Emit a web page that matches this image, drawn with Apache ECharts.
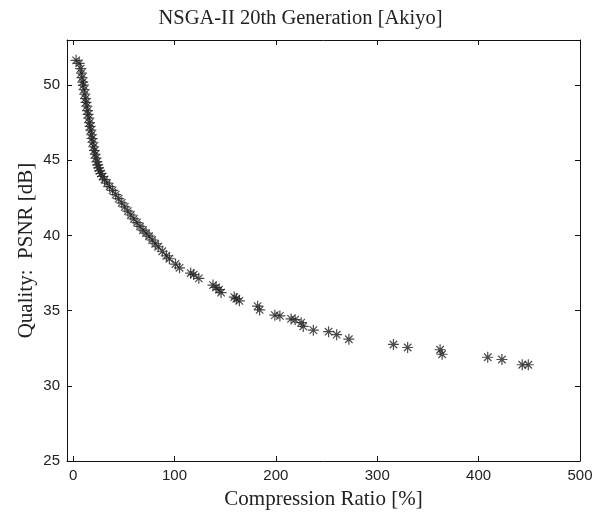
<!DOCTYPE html>
<html>
<head>
<meta charset="utf-8">
<script src="https://cdn.jsdelivr.net/npm/echarts@6/dist/echarts.min.js"></script>
<style>
  html, body { margin: 0; padding: 0; background: #fff; }
  #chart { width: 601px; height: 515px; }
</style>
</head>
<body>
<div id="chart"></div>
<script>
// compression ratio [%] of each Pareto solution
var ratio = [3, 6, 7.5, 8.2, 8.8, 9.5, 10.2, 10.8, 11.5, 12.2, 12.8, 13.5, 14.2, 14.8, 15.5,
  16.2, 16.8, 17.5, 18.2, 18.8, 19.5, 20.3, 21, 21.8, 22.6, 23.5, 24.3, 25.2, 26.2, 27.4,
  29, 31, 33.5, 36, 39, 42, 45, 48, 51, 54, 57, 60, 63, 66, 69, 72, 75, 78, 81, 84, 88, 92,
  95, 101, 105, 116, 119, 124, 138, 141, 144, 146, 159, 161, 164, 182, 184, 199, 204,
  215, 219, 225, 227, 237, 252, 260, 272, 316, 330, 362, 364, 409, 423, 443, 449];
// quality PSNR [dB] of each solution
var psnr = [51.65, 51.45, 51.1, 50.8, 50.5, 50.2, 50.0, 49.7, 49.4, 49.1, 48.85, 48.6, 48.3,
  48.05, 47.8, 47.5, 47.25, 47.0, 46.7, 46.45, 46.2, 45.9, 45.65, 45.4, 45.15, 44.9, 44.7,
  44.5, 44.3, 44.12, 43.92, 43.72, 43.48, 43.25, 43.0, 42.72, 42.45, 42.17, 41.9, 41.62,
  41.36, 41.1, 40.85, 40.6, 40.36, 40.15, 39.95, 39.7, 39.45, 39.25, 38.95, 38.65, 38.45,
  38.1, 37.85, 37.5, 37.4, 37.15, 36.7, 36.55, 36.4, 36.2, 35.9, 35.8, 35.65, 35.3, 35.05,
  34.7, 34.65, 34.45, 34.4, 34.2, 33.95, 33.7, 33.6, 33.4, 33.1, 32.75, 32.55, 32.4, 32.1,
  31.9, 31.75, 31.4, 31.4];

var xTicks = [0, 100, 200, 300, 400, 500];
var yTicks = [25, 30, 35, 40, 45, 50];

var chart = echarts.init(document.getElementById('chart'));

var points = ratio.map(function (r, i) { return [r, psnr[i]]; });
var star = 'path://M0,5L10,5M5,0L5,10M1.6,1.6L8.4,8.4M8.4,1.6L1.6,8.4';
var serif = '"Liberation Serif", "DejaVu Serif", serif';
var sans = '"Liberation Sans", Arial, sans-serif';

function xAxisDef(pos, labels) {
  return {
    type: 'value', position: pos, min: -6, max: 500,
    axisLine: { show: true, onZero: false, lineStyle: { color: '#111', width: 1 } },
    axisTick: { show: true, inside: true, length: 5, customValues: xTicks, lineStyle: { color: '#111' } },
    axisLabel: { show: labels, customValues: xTicks, color: '#222', fontSize: 15, fontFamily: sans, margin: 7 },
    splitLine: { show: false }
  };
}
function yAxisDef(pos, labels) {
  return {
    type: 'value', position: pos, min: 25, max: 53,
    axisLine: { show: true, onZero: false, lineStyle: { color: '#111', width: 1 } },
    axisTick: { show: true, inside: true, length: 5, customValues: yTicks, lineStyle: { color: '#111' } },
    axisLabel: { show: labels, customValues: yTicks, color: '#222', fontSize: 15, fontFamily: sans, margin: 7 },
    splitLine: { show: false }
  };
}

var xBottom = xAxisDef('bottom', true);
xBottom.name = 'Compression Ratio [%]';
xBottom.nameLocation = 'middle';
xBottom.nameGap = 28;
xBottom.nameMoveOverlap = false;
xBottom.nameTextStyle = { fontFamily: serif, fontSize: 21, color: '#222' };
var yLeft = yAxisDef('left', true);
yLeft.name = 'Quality:  PSNR [dB]';
yLeft.nameLocation = 'middle';
yLeft.nameGap = 30;
yLeft.nameMoveOverlap = false;
yLeft.nameTextStyle = { fontFamily: serif, fontSize: 21, color: '#222' };

chart.setOption({
  backgroundColor: '#fff',
  animation: false,
  title: {
    text: 'NSGA-II 20th Generation [Akiyo]',
    left: 'center',
    top: 3,
    textStyle: { fontFamily: serif, fontSize: 20.5, fontWeight: 'normal', color: '#222' }
  },
  grid: { left: 67, right: 21, top: 40, bottom: 49 },
  xAxis: [xBottom, xAxisDef('top', false)],
  yAxis: [yLeft, yAxisDef('right', false)],
  series: [{
    type: 'scatter',
    data: points,
    symbol: star,
    symbolSize: 11,
    itemStyle: { color: 'transparent', borderColor: '#1e1e1e', borderWidth: 1.2 }
  }]
});
</script>
</body>
</html>
